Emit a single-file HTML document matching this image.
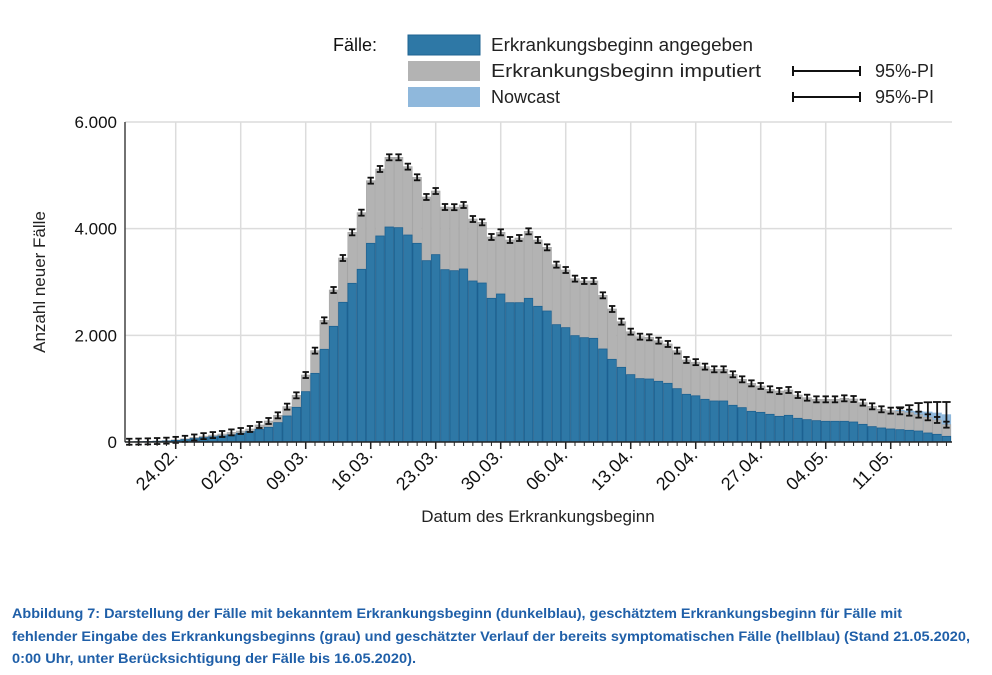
<!DOCTYPE html>
<html><head><meta charset="utf-8"><style>
body{margin:0;background:#fff}
svg{display:block;font-family:"Liberation Sans",Arial,sans-serif}
</style></head><body>
<svg id="chart" width="992" height="675" viewBox="0 0 992 675">
<g>
<text x="333" y="51" font-size="18" fill="#111">Fälle:</text>
<rect x="408" y="35" width="72" height="20" fill="#2e78a6" stroke="#1f6391"/>
<text x="491" y="51" font-size="18" fill="#222" textLength="262" lengthAdjust="spacingAndGlyphs">Erkrankungsbeginn angegeben</text>
<rect x="408" y="61" width="72" height="20" fill="#b3b3b3"/>
<text x="491" y="77" font-size="18" fill="#222" textLength="270" lengthAdjust="spacingAndGlyphs">Erkrankungsbeginn imputiert</text>
<rect x="408" y="87" width="72" height="20" fill="#8fb8dc"/>
<text x="491" y="103" font-size="18" fill="#222">Nowcast</text>
<g stroke="#111" stroke-width="2"><line x1="793" y1="71" x2="860" y2="71"/><line x1="793" y1="66" x2="793" y2="76"/><line x1="860" y1="66" x2="860" y2="76"/></g>
<text x="875" y="77" font-size="18" fill="#222">95%-PI</text>
<g stroke="#111" stroke-width="2"><line x1="793" y1="97" x2="860" y2="97"/><line x1="793" y1="92" x2="793" y2="102"/><line x1="860" y1="92" x2="860" y2="102"/></g>
<text x="875" y="103" font-size="18" fill="#222">95%-PI</text>
</g>
<g id="grid"></g>
<g id="bars"></g>
<g id="errs"></g>
<g id="axes"></g>
<text x="45" y="282" font-size="17" fill="#222" text-anchor="middle" transform="rotate(-90 45 282)">Anzahl neuer Fälle</text>
<text x="538" y="522" font-size="17" fill="#222" text-anchor="middle">Datum des Erkrankungsbeginn</text>
<g font-size="14" font-weight="bold" fill="#1f5fa8">
<text x="12" y="618" textLength="890" lengthAdjust="spacingAndGlyphs">Abbildung 7: Darstellung der Fälle mit bekanntem Erkrankungsbeginn (dunkelblau), geschätztem Erkrankungsbeginn für Fälle mit</text>
<text x="12" y="641" textLength="958" lengthAdjust="spacingAndGlyphs">fehlender Eingabe des Erkrankungsbeginns (grau) und geschätzter Verlauf der bereits symptomatischen Fälle (hellblau) (Stand 21.05.2020,</text>
<text x="12" y="663" textLength="404" lengthAdjust="spacingAndGlyphs">0:00 Uhr, unter Berücksichtigung der Fälle bis 16.05.2020).</text>
</g>
</svg>
<script>
// 89 days: 19.02. .. 17.05.
const blueValues=[4,6,9,13,19,30,45,64,83,98,113,135,163,197,238,275,363,488,650,944,1287,1738,2169,2619,2975,3238,3725,3863,4031,4019,3881,3725,3400,3513,3231,3212,3244,3019,2981,2694,2775,2612,2612,2694,2544,2456,2200,2144,1994,1956,1944,1744,1550,1400,1263,1188,1181,1138,1100,1000,894,866,800,769,769,688,644,575,556,519,481,500,444,419,400,388,388,388,375,331,288,263,244,231,219,206,169,144,106];
const totalValues=[5,8,12,18,25,40,60,85,110,130,150,180,206,244,319,394,500,663,875,1256,1713,2281,2850,3450,3931,4300,4900,5119,5338,5338,5163,4963,4594,4706,4406,4403,4444,4181,4119,3844,3931,3788,3825,3950,3788,3650,3325,3225,3063,3019,3019,2750,2494,2256,2069,1975,1963,1900,1838,1713,1538,1497,1413,1363,1363,1269,1175,1100,1050,988,956,975,881,831,800,800,800,819,806,738,669,613,588,575,550,513,463,413,325];
const nowcastValues=[0,0,0,0,0,0,0,0,0,0,0,0,0,0,0,0,0,0,0,0,0,0,0,0,0,0,0,0,0,0,0,0,0,0,0,0,0,0,0,0,0,0,0,0,0,0,0,0,0,0,0,0,0,0,0,0,0,0,0,0,0,0,0,0,0,0,0,0,0,0,0,0,0,0,0,0,0,0,0,0,0,0,0,600,588,581,569,550,519];
const nowcastUpper=[0,0,0,0,0,0,0,0,0,0,0,0,0,0,0,0,0,0,0,0,0,0,0,0,0,0,0,0,0,0,0,0,0,0,0,0,0,0,0,0,0,0,0,0,0,0,0,0,0,0,0,0,0,0,0,0,0,0,0,0,0,0,0,0,0,0,0,0,0,0,0,0,0,0,0,0,0,0,0,0,0,0,0,650,690,730,745,750,750];
const yTicks=[0,2000,4000,6000];
const yTickLabels=["0","2.000","4.000","6.000"];
const xTickIndex=[5,12,19,26,33,40,47,54,61,68,75,82];
const xTickLabels=["24.02.","02.03.","09.03.","16.03.","23.03.","30.03.","06.04.","13.04.","20.04.","27.04.","04.05.","11.05."];

const NS="http://www.w3.org/2000/svg";
const X0=125,X1=952,Y0=442,Y6=122,DAY=9.286,REF=175.7;
const y=v=>Y0-(v/6000)*(Y0-Y6);
const xc=i=>REF+(i-5)*DAY;
function mk(parent,tag,attrs){const e=document.createElementNS(NS,tag);for(const k in attrs)e.setAttribute(k,attrs[k]);parent.appendChild(e);return e;}
const grid=document.getElementById('grid'),bars=document.getElementById('bars'),errs=document.getElementById('errs'),axes=document.getElementById('axes');

yTicks.forEach((v,k)=>{
  if(v>0){const g=mk(grid,'line',{x1:X0,x2:X1,y1:y(v),y2:y(v),stroke:'#dcdcdc','stroke-width':1.5});
  
  }
  const t=mk(axes,'text',{x:117,y:y(v)+6,'text-anchor':'end','font-size':17,fill:'#111'});
  t.textContent=yTickLabels[k];
  
  
});
xTickIndex.forEach((i,k)=>{
  const g=mk(grid,'line',{x1:xc(i),x2:xc(i),y1:Y6,y2:Y0,stroke:'#dcdcdc','stroke-width':1.5});
  
  
  const tk=mk(axes,'line',{x1:xc(i),x2:xc(i),y1:Y0,y2:Y0+7,stroke:'#222','stroke-width':1.5});
  
  
  const lx=xc(i)+3,ly=Y0+14;
  const t=mk(axes,'text',{x:lx,y:ly,'text-anchor':'end','font-size':18,fill:'#111',transform:`rotate(-45 ${lx} ${ly})`});
  t.textContent=xTickLabels[k];
  
  
});

blueValues.forEach((b,i)=>{
  const L=xc(i)-DAY/2;
  if(nowcastValues[i]>0){
    const n=mk(bars,'rect',{x:L,y:y(nowcastValues[i]),width:DAY,height:Y0-y(nowcastValues[i]),fill:'#8fb8dc'});
    
    
  }
  const g=mk(bars,'rect',{x:L+0.3,y:y(totalValues[i]),width:DAY-0.6,height:Y0-y(totalValues[i]),fill:'#b3b3b3',stroke:'#a5a5a5','stroke-width':0.6});
  
  
  const r=mk(bars,'rect',{x:L+0.4,y:y(b),width:DAY-0.8,height:Y0-y(b),fill:'#2e78a6',stroke:'#1c6191','stroke-width':0.8});
  
  
  const tk=mk(axes,'line',{x1:xc(i),x2:xc(i),y1:Y0,y2:Y0+4,stroke:'#222','stroke-width':1});
  
  
  const t=totalValues[i],hw=3.2;
  const eg=mk(errs,'g',{stroke:'#111','stroke-width':1.8});
  
  
  const yt=y(t)-3,yb=y(t)+3;
  mk(eg,'line',{x1:xc(i),x2:xc(i),y1:yt,y2:yb});
  mk(eg,'line',{x1:xc(i)-hw,x2:xc(i)+hw,y1:yt,y2:yt});
  mk(eg,'line',{x1:xc(i)-hw,x2:xc(i)+hw,y1:yb,y2:yb});
  if(nowcastUpper[i]>0){
    const ng=mk(errs,'g',{stroke:'#111','stroke-width':1.8});
    
    
    mk(ng,'line',{x1:xc(i),x2:xc(i),y1:y(nowcastUpper[i]),y2:y(t)});
    mk(ng,'line',{x1:xc(i)-hw-1,x2:xc(i)+hw+1,y1:y(nowcastUpper[i]),y2:y(nowcastUpper[i])});
  }
});
const ya=mk(axes,'line',{x1:X0,x2:X0,y1:Y6,y2:Y0,stroke:'#444','stroke-width':1.5});


const xa=mk(axes,'line',{x1:X0,x2:X1,y1:Y0,y2:Y0,stroke:'#222','stroke-width':1.5});


</script>
</body></html>
